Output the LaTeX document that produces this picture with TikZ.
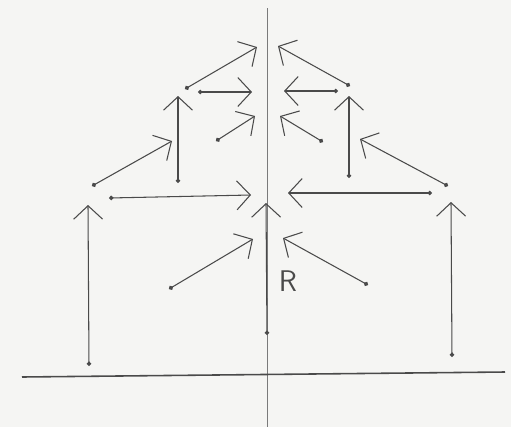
\documentclass[tikz,border=0pt]{standalone}
\usepackage{tikz}
\usetikzlibrary{arrows.meta}
\definecolor{PaperGray}{HTML}{F5F5F3}
\definecolor{InkGray}{HTML}{4A4A4A}
\definecolor{AxisGray}{HTML}{7A7A7A}

\begin{document}
\begin{tikzpicture}[
  x=0.02cm, y=-0.02cm,
  vec/.style  = {{Circle[length=0.09cm]}-{Straight Barb[length=0.27cm,width=0.58cm]},
                 InkGray, line width=0.6pt},
  axis/.style = {AxisGray, line width=0.5pt},
  lbl/.style  = {font=\sffamily\fontsize{17}{19}\selectfont, text=InkGray, inner sep=0pt}
]
\fill[PaperGray] (0,0) rectangle (511,427);
\useasboundingbox (0,0) rectangle (511,427);

%% ---- axis of symmetry and the ground line -----------------------------
\coordinate (axTop) at (267,8);
\coordinate (axBot) at (267,427);
\coordinate (gndL)  at (22,377);
\coordinate (gndR)  at (505,372);
\draw[axis] (axTop) -- (axBot);
\draw[axis, InkGray, line width=0.9pt] (gndL) -- (gndR);

%% ---- tails (-t) and heads (-h) of the vectors -------------------------
\coordinate (lv-t)   at (89,366);  \coordinate (lv-h)   at (88,205);
\coordinate (rv-t)   at (452,357); \coordinate (rv-h)   at (451,202);
\coordinate (cv-t)   at (267,335); \coordinate (cv-h)   at (266,203);
\coordinate (ld-t)   at (169,289); \coordinate (ld-h)   at (253,239);
\coordinate (rd-t)   at (368,285); \coordinate (rd-h)   at (283,238);
\coordinate (lh-t)   at (109,198); \coordinate (lh-h)   at (251,195);
\coordinate (rh-t)   at (432,193); \coordinate (rh-h)   at (288,193);
\coordinate (ldu-t)  at (92,186);  \coordinate (ldu-h)  at (172,141);
\coordinate (rdu-t)  at (448,186); \coordinate (rdu-h)  at (360,139);
\coordinate (lvs-t)  at (178,183); \coordinate (lvs-h)  at (178,96);
\coordinate (rvs-t)  at (349,178); \coordinate (rvs-h)  at (349,96);
\coordinate (ltop-t) at (185,89);  \coordinate (ltop-h) at (257,47);
\coordinate (rtop-t) at (350,86);  \coordinate (rtop-h) at (278,46);
\coordinate (lhs-t)  at (198,92);  \coordinate (lhs-h)  at (252,92);
\coordinate (rhs-t)  at (338,91);  \coordinate (rhs-h)  at (284,91);
\coordinate (lin-t)  at (216,141); \coordinate (lin-h)  at (255,116);
\coordinate (rin-t)  at (323,142); \coordinate (rin-h)  at (280,116);

\foreach \v in {lv,rv,cv,ld,rd,lh,rh,ldu,rdu,lvs,rvs,ltop,rtop,lhs,rhs,lin,rin}
  \draw[vec] (\v-t) -- (\v-h);

%% ---- resultant label ---------------------------------------------------
\node[lbl] (R) at (288,281) {R};

\end{tikzpicture}
\end{document}
